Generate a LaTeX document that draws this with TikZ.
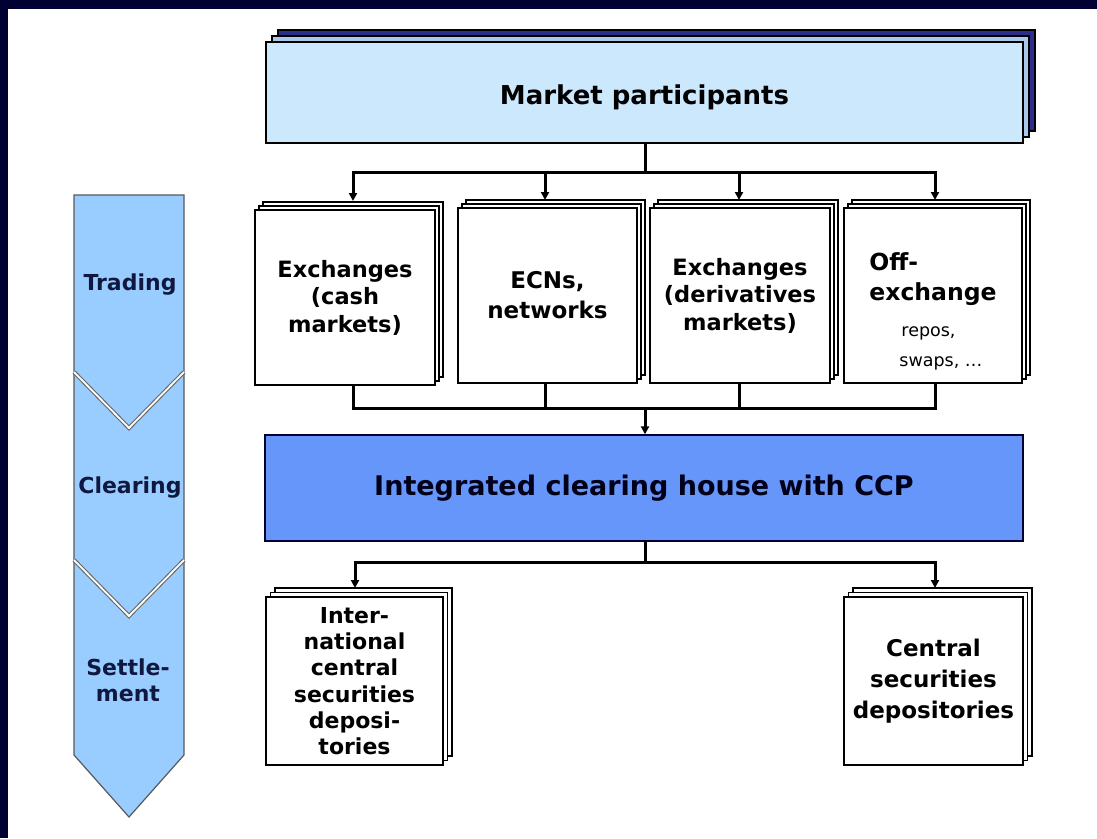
\documentclass[tikz,border=0pt]{standalone}
\usepackage{fontspec}
\setmainfont{DejaVu Sans}
\usetikzlibrary{shadows,arrows.meta}
\definecolor{framec}{RGB}{0,0,51}
\definecolor{mpfront}{RGB}{204,232,252}
\definecolor{mpmid}{RGB}{170,200,235}
\definecolor{mpback}{RGB}{45,45,140}
\definecolor{clrc}{RGB}{102,150,250}
\definecolor{bandc}{RGB}{153,204,255}
\definecolor{bandtext}{RGB}{16,24,64}
\tikzset{
  boxfont/.style={font=\bfseries\fontsize{22.5}{27.5}\selectfont},
  stackbox/.style={draw=black, line width=1.6pt, fill=white, align=center, inner sep=0pt, boxfont,
    copy shadow={shadow xshift=8pt, shadow yshift=8pt, fill=white, draw=black, line width=1.6pt},
    copy shadow={shadow xshift=4pt, shadow yshift=4pt, fill=white, draw=black, line width=1.6pt}},
  stackboxb/.style={draw=black, line width=1.6pt, fill=white, align=center, inner sep=0pt, boxfont,
    copy shadow={shadow xshift=9pt, shadow yshift=9pt, fill=white, draw=black, line width=1.6pt},
    copy shadow={shadow xshift=4.5pt, shadow yshift=4.5pt, fill=white, draw=black, line width=1.6pt}},
  mpbox/.style={draw=black, line width=1.4pt, fill=mpfront, inner sep=0pt,
    font=\bfseries\fontsize{26}{30}\selectfont,
    copy shadow={shadow xshift=12pt, shadow yshift=12pt, fill=mpback, draw=black, line width=1.4pt},
    copy shadow={shadow xshift=6pt, shadow yshift=6pt, fill=mpmid, draw=black, line width=1.4pt}},
  clrbox/.style={draw=black!80!blue, line width=1.4pt, fill=clrc, inner sep=0pt,
    font=\bfseries\fontsize{27}{30}\selectfont, text=black!90!blue},
  conn/.style={line width=3pt, draw=black, line cap=rect},
  arr/.style={line width=3pt, draw=black, -{Triangle[length=8pt,width=8pt]}},
  bandtxt/.style={align=center, text=bandtext, inner sep=0pt, font=\bfseries\fontsize{22}{26}\selectfont},
}
\begin{document}
\begin{tikzpicture}[x=1pt,y=-1pt]
\useasboundingbox (0,0) rectangle (1097,838);
\fill[white] (0,0) rectangle (1097,838);
\fill[framec] (0,0) rectangle (1097,9);
\fill[framec] (0,0) rectangle (8,838);

% left band
\fill[bandc] (74,195) -- (184,195) -- (184,755) -- (129,817) -- (74,755) -- cycle;
\draw[line width=1.2pt, draw=black!65] (74,195) -- (184,195) -- (184,755) -- (129,817) -- (74,755) -- cycle;
\draw[line width=4pt, draw=black!60] (74,372) -- (129,428) -- (184,372);
\draw[line width=1.8pt, draw=white] (74,372) -- (129,428) -- (184,372);
\draw[line width=4pt, draw=black!60] (74,560) -- (129,616) -- (184,560);
\draw[line width=1.8pt, draw=white] (74,560) -- (129,616) -- (184,560);
\node[bandtxt] (trading) at (130,285) {Trading};
\node[bandtxt] (clearing) at (130,488) {Clearing};
\node[bandtxt] (settle) at (128,680) {Settle-\\ment};

% top box
\node[mpbox, minimum width=757pt, minimum height=101pt, text height=24pt, text depth=0pt] (mp) at (644.5,92.5) {Market participants};

% row of venues
\node[stackbox, minimum width=180pt, minimum height=175pt] (ex1) at (345,297.5) {Exchanges\\(cash\\markets)};
\node[stackbox, minimum width=179pt, minimum height=175pt, font=\bfseries\fontsize{23}{30}\selectfont] (ecn) at (547.5,295.5) {ECNs,\\networks};
\node[stackbox, minimum width=180pt, minimum height=175pt] (ex2) at (740,295.5) {Exchanges\\(derivatives\\markets)};
\node[stackbox, minimum width=178pt, minimum height=175pt] (off) at (933,295.5) {};
\node[align=left, inner sep=0pt, font=\bfseries\fontsize{23.5}{30}\selectfont] (offtxt) at (933,311)
  {Off-\\exchange\\[6pt]{\mdseries\fontsize{17.5}{29}\selectfont\hspace*{32pt}repos,}\\{\mdseries\fontsize{17.5}{29}\selectfont\hspace*{30pt}swaps, \dots}};

% clearing house
\node[clrbox, minimum width=758pt, minimum height=106pt] (clr) at (644,488) {Integrated clearing house with CCP};

% depositories
\node[stackboxb, minimum width=177pt, minimum height=168pt, font=\bfseries\fontsize{22}{26.3}\selectfont] (icsd) at (354.5,681)
  {Inter-\\national\\central\\securities\\deposi-\\tories};
\node[stackboxb, minimum width=179pt, minimum height=168pt, font=\bfseries\fontsize{23}{31}\selectfont] (csd) at (933.5,681)
  {Central\\securities\\depositories};

% connectors: top
\coordinate (busA) at (645,172);
\coordinate (a1) at (353,201);
\coordinate (a2) at (545,200);
\coordinate (a3) at (739,200);
\coordinate (a4) at (935,200);
\draw[conn] (mp.south -| busA) -- (busA);
\draw[conn] (a1 |- busA) -- (a4 |- busA);
\draw[arr] (a1 |- busA) -- (a1);
\draw[arr] (a2 |- busA) -- (a2);
\draw[arr] (a3 |- busA) -- (a3);
\draw[arr] (a4 |- busA) -- (a4);

% connectors: middle
\coordinate (busB) at (645,408);
\draw[conn] (a1 |- ex1.south) -- (a1 |- busB);
\draw[conn] (a2 |- ecn.south) -- (a2 |- busB);
\draw[conn] (a3 |- ex2.south) -- (a3 |- busB);
\draw[conn] (a4 |- off.south) -- (a4 |- busB);
\draw[conn] (a1 |- busB) -- (a4 |- busB);
\draw[arr] (busB) -- (busB |- clr.north);

% connectors: bottom
\coordinate (busC) at (645,562);
\coordinate (c1) at (355,588);
\coordinate (c2) at (935,588);
\draw[conn] (clr.south -| busC) -- (busC);
\draw[conn] (c1 |- busC) -- (c2 |- busC);
\draw[arr] (c1 |- busC) -- (c1);
\draw[arr] (c2 |- busC) -- (c2);
\end{tikzpicture}
\end{document}
